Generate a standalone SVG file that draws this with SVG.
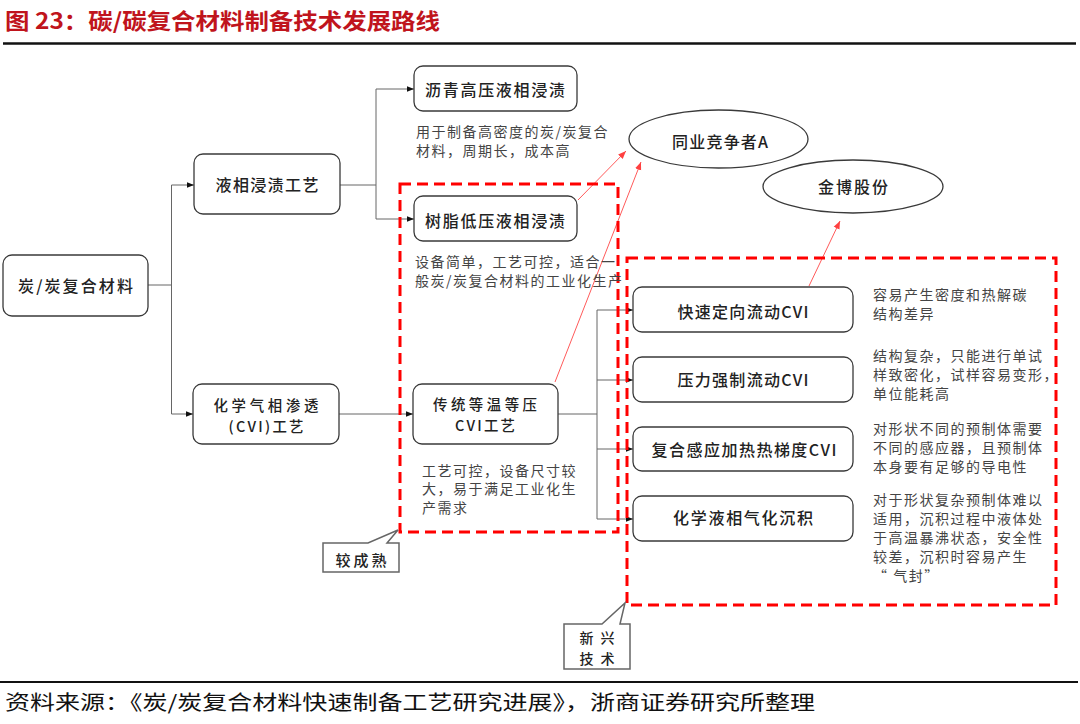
<svg xmlns="http://www.w3.org/2000/svg" width="1080" height="724" viewBox="0 0 1080 724">
<defs>
<style>
.node{fill:#fff;stroke:#3a3a3a;stroke-width:1.3}
.nt{font-family:"Noto Sans CJK SC","Noto Sans",sans-serif;font-size:16px;fill:#222;text-anchor:middle;font-weight:500}
.nt2{font-size:14.4px}
.ct{font-size:14px}
.ann{font-family:"Noto Sans CJK SC","Noto Sans",sans-serif;font-size:14px;fill:#444;letter-spacing:1.5px}
.con{fill:none;stroke:#666;stroke-width:1}
.red{fill:none;stroke:#ff5a5a;stroke-width:1}
.dash{fill:none;stroke:#ff0000;stroke-width:3;stroke-dasharray:11 6}
.call{fill:#fff;stroke:#666;stroke-width:1.5}
</style>
<marker id="ah" viewBox="0 0 10 10" refX="10" refY="5" markerWidth="7" markerHeight="7" orient="auto" markerUnits="userSpaceOnUse"><path d="M0,1 L10,5 L0,9 Z" fill="#111"/></marker>
<marker id="rah" viewBox="0 0 10 10" refX="10" refY="5" markerWidth="8" markerHeight="8" orient="auto" markerUnits="userSpaceOnUse"><path d="M0,1 L10,5 L0,9 Z" fill="#ff4040"/></marker>
</defs>
<rect width="1080" height="724" fill="#fff"/>

<text x="5" y="29" font-family="'Noto Sans CJK SC','Noto Sans',sans-serif" font-size="22" font-weight="bold" fill="#c0141c" textLength="435" lengthAdjust="spacingAndGlyphs">图 23：碳/碳复合材料制备技术发展路线</text>
<line x1="3" y1="43.5" x2="1076" y2="43.5" stroke="#111" stroke-width="2.5"/>

<g id="connectors">
<path class="con" d="M148,285 H171.5 M171.5,185 V414"/>
<path class="con" d="M171.5,185 H194" marker-end="url(#ah)"/>
<path class="con" d="M171.5,414 H193" marker-end="url(#ah)"/>
<path class="con" d="M340,185 H376 M376,89 V219"/>
<path class="con" d="M376,89 H414" marker-end="url(#ah)"/>
<path class="con" d="M376,219 H414" marker-end="url(#ah)"/>
<path class="con" d="M339,414 H413" marker-end="url(#ah)"/>
<path class="con" d="M558,414 H597 M597,310 V519"/>
<path class="con" d="M597,310 H633" marker-end="url(#ah)"/>
<path class="con" d="M597,380 H633" marker-end="url(#ah)"/>
<path class="con" d="M597,449 H633" marker-end="url(#ah)"/>
<path class="con" d="M597,519 H633" marker-end="url(#ah)"/>
<path class="red" d="M578,200 L626,151" marker-end="url(#rah)"/>
<path class="red" d="M555,382 L641,162" marker-end="url(#rah)"/>
<path class="red" d="M809,286 L840,221" marker-end="url(#rah)"/>
</g>

<g id="box-mature"><rect class="dash" x="400" y="184" width="218" height="348"/></g>
<g id="box-new"><rect class="dash" x="627" y="258" width="429" height="347"/></g>

<g id="n-cc"><rect class="node" x="3" y="255" width="145" height="61" rx="9"/><text class="nt" x="75.5" y="292" textLength="115">炭/炭复合材料</text></g>
<g id="n-liquid"><rect class="node" x="194" y="154" width="146" height="60" rx="9"/><text class="nt" x="267" y="191" textLength="103">液相浸渍工艺</text></g>
<g id="n-cvi"><rect class="node" x="193" y="384" width="146" height="60" rx="9"/><text class="nt nt2" x="266" y="411" textLength="105">化学气相渗透</text><text class="nt nt2" x="266" y="432" textLength="75">(CVI)工艺</text></g>
<g id="n-pitch"><rect class="node" x="414" y="66" width="163" height="45" rx="9"/><text class="nt" x="495" y="96" textLength="140">沥青高压液相浸渍</text></g>
<g id="n-resin"><rect class="node" x="414" y="196" width="163" height="45" rx="9"/><text class="nt" x="495" y="227" textLength="140">树脂低压液相浸渍</text></g>
<g id="n-tcvi"><rect class="node" x="413" y="384" width="145" height="60" rx="9"/><text class="nt nt2" x="485" y="410" textLength="104">传统等温等压</text><text class="nt nt2" x="485" y="431" textLength="60">CVI工艺</text></g>
<g id="n-fast"><rect class="node" x="633" y="287" width="220" height="45" rx="9"/><text class="nt" x="743" y="318" textLength="131">快速定向流动CVI</text></g>
<g id="n-press"><rect class="node" x="633" y="357" width="220" height="45" rx="9"/><text class="nt" x="743" y="386" textLength="131">压力强制流动CVI</text></g>
<g id="n-ind"><rect class="node" x="633" y="427" width="220" height="44" rx="9"/><text class="nt" x="744" y="456" textLength="185">复合感应加热热梯度CVI</text></g>
<g id="n-clvd"><rect class="node" x="633" y="496" width="220" height="45" rx="9"/><text class="nt" x="743" y="524" textLength="140">化学液相气化沉积</text></g>
<g id="n-compA"><ellipse class="node" cx="718.5" cy="139" rx="89.5" ry="29"/><text class="nt" x="720" y="148" textLength="96">同业竞争者A</text></g>
<g id="n-jinbo"><ellipse class="node" cx="853" cy="186.5" rx="90" ry="26.5"/><text class="nt" x="853" y="193" textLength="70">金博股份</text></g>

<g id="annotations">
<text class="ann" x="416" y="137">用于制备高密度的炭/炭复合</text>
<text class="ann" x="416" y="156">材料，周期长，成本高</text>
<text class="ann" x="415" y="267">设备简单，工艺可控，适合一</text>
<text class="ann" x="415" y="286">般炭/炭复合材料的工业化生产</text>
<text class="ann" x="422" y="476">工艺可控，设备尺寸较</text>
<text class="ann" x="422" y="494">大，易于满足工业化生</text>
<text class="ann" x="422" y="513">产需求</text>
<text class="ann" x="873" y="300">容易产生密度和热解碳</text>
<text class="ann" x="873" y="319">结构差异</text>
<text class="ann" x="873" y="361">结构复杂，只能进行单试</text>
<text class="ann" x="873" y="380">样致密化，试样容易变形，</text>
<text class="ann" x="873" y="399">单位能耗高</text>
<text class="ann" x="873" y="434">对形状不同的预制体需要</text>
<text class="ann" x="873" y="453">不同的感应器，且预制体</text>
<text class="ann" x="873" y="472">本身要有足够的导电性</text>
<text class="ann" x="873" y="505">对于形状复杂预制体难以</text>
<text class="ann" x="873" y="524">适用，沉积过程中液体处</text>
<text class="ann" x="873" y="543">于高温暴沸状态，安全性</text>
<text class="ann" x="873" y="562">较差，沉积时容易产生</text>
<text class="ann" x="873" y="581">“ 气封”</text>
</g>

<g id="callout-mature"><path class="call" d="M323,543 L368,543 L398,530 L387,543 L399,543 L399,572 L323,572 Z"/><text class="nt" x="361" y="566" style="font-size:15px" textLength="51">较成熟</text></g>
<g id="callout-new"><path class="call" d="M564,624 L602,624 L625,603 L620,624 L630,624 L630,669 L564,669 Z"/><text class="nt ct" x="597" y="643" textLength="35">新兴</text><text class="nt ct" x="597" y="664" textLength="35">技术</text></g>

<line x1="0" y1="682" x2="1078" y2="682" stroke="#111" stroke-width="2"/>
<text x="5" y="710" font-family="'Noto Sans CJK SC','Noto Sans',sans-serif" font-size="20" fill="#111" textLength="810" lengthAdjust="spacingAndGlyphs">资料来源：《炭/炭复合材料快速制备工艺研究进展》，浙商证券研究所整理</text>
</svg>
